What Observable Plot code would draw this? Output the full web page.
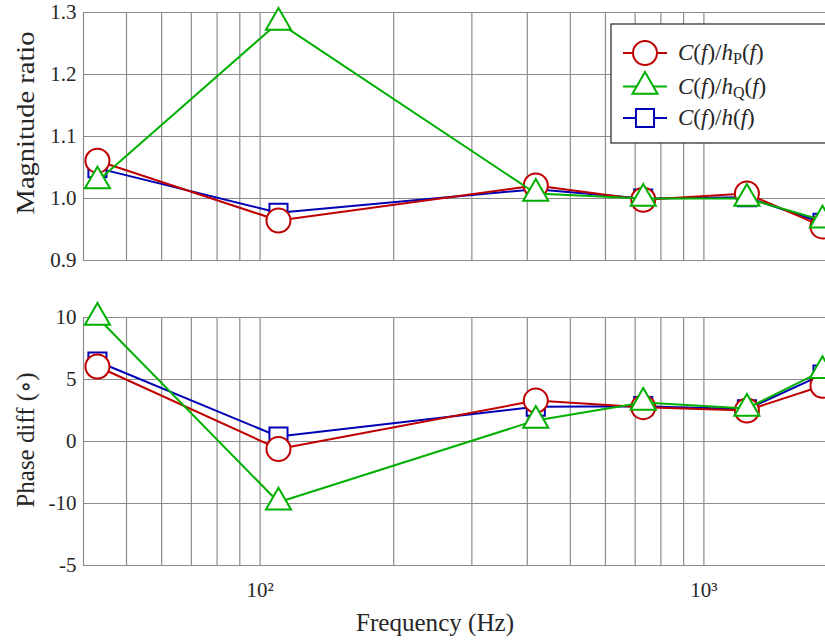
<!DOCTYPE html>
<html>
<head>
<meta charset="utf-8">
<script src="https://cdn.jsdelivr.net/npm/d3@7"></script>
<script src="https://cdn.jsdelivr.net/npm/@observablehq/plot@0.6"></script>
<style>
  html, body { margin: 0; padding: 0; background: #fff; overflow: hidden; }
  #chart { position: relative; width: 825px; height: 641px; overflow: hidden; }
  #chart svg { position: absolute; left: 0; max-width: none !important; }
  #chart svg text { font-family: "Liberation Serif", "DejaVu Serif", serif !important; }
</style>
</head>
<body>
<div id="chart"></div>
<script>
// ---- data ----
const freq = [43, 110, 418, 730, 1250, 1850];
const magP = [1.061, 0.9645, 1.021, 0.998, 1.008, 0.955];
const magQ = [1.028, 1.284, 1.008, 1.0, 1.0, 0.965];
const magH = [1.049, 0.977, 1.015, 1.0, 1.002, 0.961];
const phP = [6.05, -0.6, 3.3, 2.77, 2.5, 4.5];
const phQ = [10.0, -4.9, 1.7, 3.15, 2.66, 5.7];
const phH = [6.45, 0.4, 2.8, 2.85, 2.6, 5.4];

const xGrid = [40, 50, 60, 70, 80, 90, 100, 200, 300, 400, 500, 600, 700, 800, 900, 1000];
const xTicks = [100, 1000];
const xTickLabels = ["10²", "10³"];
const magTicks = [0.9, 1.0, 1.1, 1.2, 1.3];
const magTickLabels = ["0.9", "1.0", "1.1", "1.2", "1.3"];
const phTicks = [-10, -5, 0, 5, 10];
const phTickLabels = ["-5", "-10", "0", "5", "10"];

const colors = { hP: "#bf0000", hQ: "#00b000", h: "#0000b4" };
const symbols = { hP: "circle", hQ: "triangle", h: "square" };
const radii = { hP: 12, hQ: 9.3, h: 10.2 };
const drawOrder = ["h", "hP", "hQ"];

const magData = { hP: magP, hQ: magQ, h: magH };
const phData = { hP: phP, hQ: phQ, h: phH };

function rows(src, key) {
  return freq.map((f, i) => ({ f, v: src[key][i] }));
}

const gridStyle = { stroke: "#8c8c8c", strokeWidth: 1.2 };

function seriesMarks(src) {
  const marks = [];
  for (const k of drawOrder) {
    const d = rows(src, k);
    marks.push(Plot.line(d, { x: "f", y: "v", stroke: colors[k], strokeWidth: 2 }));
    marks.push(Plot.dot(d, { x: "f", y: "v", symbol: symbols[k], r: radii[k], stroke: colors[k], strokeWidth: 2, fill: "white" }));
  }
  return marks;
}

const common = {
  width: 847,
  marginLeft: 83,
  marginRight: 10,
  style: { fontSize: "21px", color: "#262626", background: "transparent", overflow: "visible" }
};

const topPlot = Plot.plot({
  ...common,
  height: 262,
  marginTop: 12,
  marginBottom: 2,
  x: { type: "log", domain: [40, 2000], axis: null },
  y: { domain: [0.9, 1.3] },
  marks: [
    Plot.ruleX(xGrid, gridStyle),
    Plot.ruleY(magTicks, gridStyle),
    Plot.axisY({ ticks: magTicks, tickSize: 0, tickPadding: 7, tickFormat: (d) => magTickLabels[magTicks.indexOf(d)], label: null }),
    ...seriesMarks(magData)
  ]
});
topPlot.style.top = "0px";

const bottomPlot = Plot.plot({
  ...common,
  height: 379,
  marginTop: 55,
  marginBottom: 76,
  x: { type: "log", domain: [40, 2000] },
  y: { domain: [-10, 10] },
  marks: [
    Plot.ruleX(xGrid, gridStyle),
    Plot.ruleY(phTicks, gridStyle),
    Plot.axisY({ ticks: phTicks, tickSize: 0, tickPadding: 7, tickFormat: (d) => phTickLabels[phTicks.indexOf(d)], label: null }),
    Plot.axisX({ ticks: xTicks, tickSize: 0, tickPadding: 17, tickFormat: (d) => xTickLabels[xTicks.indexOf(d)], label: null }),
    ...seriesMarks(phData)
  ]
});
bottomPlot.style.top = "262px";

const chart = document.getElementById("chart");
chart.appendChild(topPlot);
chart.appendChild(bottomPlot);

// axis labels
function label(svg, text, x, y, rot, len) {
  d3.select(svg).append("text")
    .attr("transform", `translate(${x},${y}) rotate(${rot})`)
    .attr("text-anchor", "middle")
    .attr("dy", "0.35em")
    .attr("font-size", 25)
    .attr("fill", "#262626")
    .attr("textLength", len)
    .attr("lengthAdjust", "spacingAndGlyphs")
    .text(text);
}
label(topPlot, "Magnitude ratio", 25, 123, -90, 183);
label(bottomPlot, "Phase diff (∘)", 25, 440 - 262, -90, 135);
label(bottomPlot, "Frequency (Hz)", 435, 622 - 262, 0, 158);

// legend
const lg = d3.select(topPlot).append("g");
lg.append("rect").attr("x", 611).attr("y", 24).attr("width", 260).attr("height", 119)
  .attr("fill", "white").attr("stroke", "#333").attr("stroke-width", 1.3);
const legendRows = [
  { k: "hP", y: 53, sub: "P" },
  { k: "hQ", y: 86.5, sub: "Q" },
  { k: "h", y: 118, sub: "" }
];
const d3sym = { circle: d3.symbolCircle, triangle: d3.symbolTriangle, square: d3.symbolSquare };
for (const r of legendRows) {
  const g = lg.append("g");
  g.append("line").attr("x1", 623).attr("x2", 667).attr("y1", r.y).attr("y2", r.y)
    .attr("stroke", colors[r.k]).attr("stroke-width", 2);
  g.append("path")
    .attr("d", d3.symbol(d3sym[symbols[r.k]], Math.PI * radii[r.k] * radii[r.k])())
    .attr("transform", `translate(645,${r.y})`)
    .attr("fill", "white").attr("stroke", colors[r.k]).attr("stroke-width", 2);
  const t = g.append("text").attr("x", 678).attr("y", r.y + 7)
    .attr("text-anchor", "start")
    .attr("font-size", 23).attr("fill", "#262626");
  t.append("tspan").attr("font-style", "italic").text("C");
  t.append("tspan").text("(");
  t.append("tspan").attr("font-style", "italic").text("f");
  t.append("tspan").text(")/");
  t.append("tspan").attr("font-style", "italic").text("h");
  if (r.sub) {
    t.append("tspan").attr("font-size", 16).attr("dy", 4).text(r.sub);
    t.append("tspan").attr("dy", -4).text("(");
  } else {
    t.append("tspan").text("(");
  }
  t.append("tspan").attr("font-style", "italic").text("f");
  t.append("tspan").text(")");
}
</script>
</body>
</html>
